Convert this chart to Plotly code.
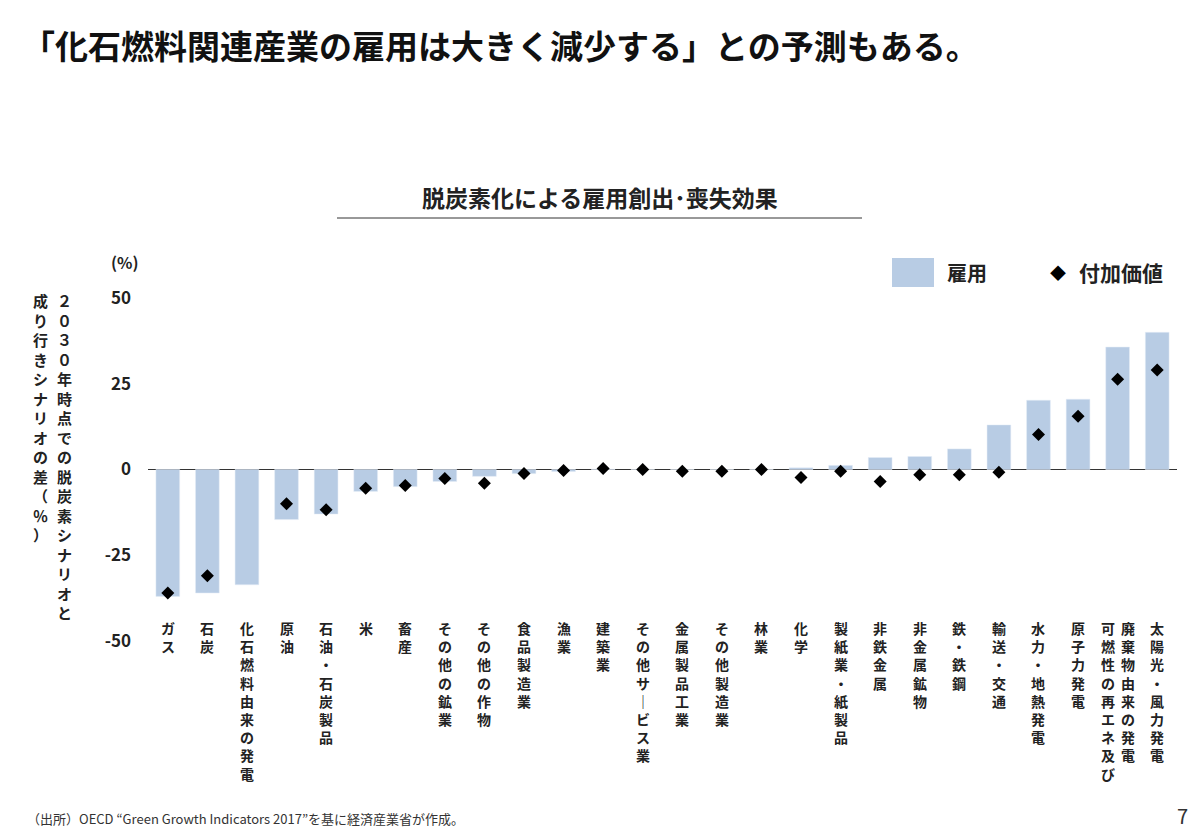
import plotly.graph_objects as go

cats = ["ガス","石炭","化石燃料由来の発電","原油","石油・石炭製品","米","畜産","その他の鉱業","その他の作物","食品製造業",
        "漁業","建築業","その他サ｜ビス業","金属製品工業","その他製造業","林業","化学","製紙業・紙製品","非鉄金属","非金属鉱物",
        "鉄・鉄鋼","輸送・交通","水力・地熱発電","原子力発電","可燃性の再エネ及び|廃棄物由来の発電","太陽光・風力発電"]
employment = [-37,-36,-33.6,-14.6,-13,-6.4,-5,-3.5,-2,-1.2,-0.6,0.1,0,0,0,0,0.5,1.2,3.5,3.8,6,13,20.2,20.5,35.7,40]
value_added = [-36,-31,None,-10,-11.7,-5.5,-4.7,-2.6,-4,-1.2,-0.3,0.3,0,-0.5,-0.5,0,-2.3,-0.5,-3.5,-1.5,-1.5,-0.8,10.2,15.5,26.3,29]
yticks = [50,25,0,-25,-50]

F = "Noto Sans CJK JP"
W, H = 1200, 830
OFF = 8
ML, MR, MT, MB = 140, 31, 290, 197
PW, PH = W - ML - MR, H - MT - MB

def px(xp, yp):
    return (xp - OFF - ML) / PW, (H - MB - (yp - OFF)) / PH

x = list(range(len(cats)))
fig = go.Figure()
fig.add_bar(x=x, y=employment, width=0.6, marker_color="#b8cce4", name="雇用", showlegend=False)
fig.add_scatter(x=x, y=value_added, mode="markers", marker=dict(symbol="diamond", size=10, color="black"),
                name="付加価値", showlegend=False)

ann = []
_, ylab = px(0, 616)
for i, c in enumerate(cats):
    cols = c.split("|")
    n = len(cols)
    for j, col in enumerate(cols):
        ann.append(dict(x=i, y=ylab, xref="x", yref="paper", yanchor="top", xanchor="center",
                        xshift=(j - (n - 1) / 2) * 20, showarrow=False,
                        text="<b>" + "<br>".join(col) + "</b>", font=dict(family=F, size=14, color="#222")))
for txt, xp in [("２０３０年時点での脱炭素シナリオと", 64), ("成り行きシナリオの差（％）", 40)]:
    X, Y = px(xp, 288)
    ann.append(dict(x=X, y=Y, xref="paper", yref="paper", xanchor="center", yanchor="top", showarrow=False,
                    text="<b>" + "<br>".join(txt) + "</b>", font=dict(family=F, size=15, color="#222")))
def add(xp, yp, text, size, xanchor="center", color="#222"):
    X, Y = px(xp, yp)
    ann.append(dict(x=X, y=Y, xref="paper", yref="paper", xanchor=xanchor, yanchor="middle", showarrow=False,
                    text=text, font=dict(family=F, size=size, color=color)))
add(125, 262, "<b>(%)</b>", 16)
add(600, 197, "<b>脱炭素化による雇用創出･喪失効果</b>", 23)
add(20, 45, "<b>「化石燃料関連産業の雇用は大きく減少する」との予測もある。</b>", 33, "left", "#111")
add(25, 818, "（出所）OECD “Green Growth Indicators 2017”を基に経済産業省が作成。", 13, "left", "#333")
add(1190, 815, "7", 20, "right", "#333")
add(945, 272, "<b>雇用</b>", 20, "left")
add(1077, 272, "<b>付加価値</b>", 21, "left")
add(1058, 272, "◆", 16, "center", "black")

x0, y0 = px(892, 287); x1, y1 = px(934, 258)
lx0, ly = px(337, 218); lx1, _ = px(862, 218)
shapes = [
    dict(type="rect", xref="paper", yref="paper", x0=x0, x1=x1, y0=y0, y1=y1, fillcolor="#b8cce4", line_width=0),
    dict(type="line", xref="paper", yref="paper", x0=lx0, x1=lx1, y0=ly, y1=ly, line=dict(color="#333", width=1)),
]

fig.update_layout(
    width=W, height=H, margin=dict(l=ML, r=MR, t=MT, b=MB),
    plot_bgcolor="white", paper_bgcolor="white", annotations=ann, shapes=shapes,
    font=dict(family=F),
)
fig.update_xaxes(range=[-0.5, 25.5], showticklabels=False, showgrid=False, zeroline=False, showline=False)
fig.update_yaxes(range=[-50, 50], tickvals=yticks, ticktext=[f"<b>{v}</b>" for v in yticks], showgrid=False,
                 zeroline=True, zerolinecolor="#333", zerolinewidth=1, showline=False,
                 tickfont=dict(family=F, size=17, color="#222"), ticklabelstandoff=16)
fig.write_html("out.html")
